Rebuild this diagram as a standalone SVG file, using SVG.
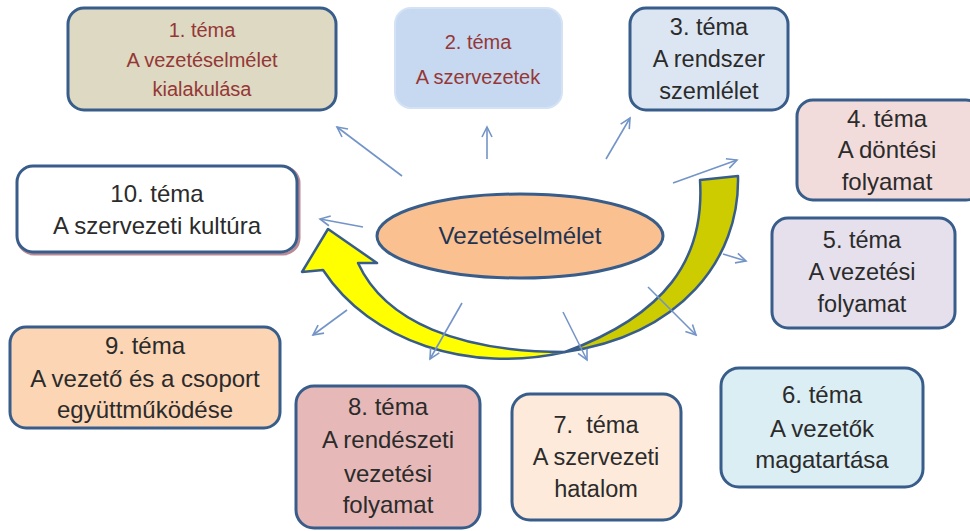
<svg xmlns="http://www.w3.org/2000/svg" width="970" height="531" viewBox="0 0 970 531">
<defs>
<style>
.box{stroke:#385d8a;stroke-width:3}
.t{font-family:"Liberation Sans",Arial,sans-serif;text-anchor:middle;fill:#2b2b2b}
.r{fill:#953735}
.c{stroke:#7394c8;stroke-width:1.6;fill:none;marker-end:url(#ah)}
.rib{stroke:#385d8a;stroke-width:2.5;stroke-linejoin:round}
</style>
<marker id="ah" markerUnits="userSpaceOnUse" markerWidth="14" markerHeight="14" refX="11" refY="6" orient="auto">
<path d="M1,1 L11,6 L1,11" fill="none" stroke="#7394c8" stroke-width="1.6"/>
</marker>
</defs>
<rect width="970" height="531" fill="#ffffff"/>

<g id="ribbon">
<path class="rib" fill="#cccc00" d="M700,180 L738,176 C740,260 680,335 565,352 C665,315 705,260 700,180 Z"/>
<path class="rib" fill="#ffff00" d="M565,352 C470,374 370,342 323,270 L302,272 L328,229 L377,263 L358,263 C385,322 460,352 565,352 Z"/>
</g>

<g id="connectors">
<line class="c" x1="402" y1="176" x2="337" y2="127"/>
<line class="c" x1="487" y1="159" x2="487" y2="127"/>
<line class="c" x1="606" y1="159" x2="630" y2="118"/>
<line class="c" x1="673" y1="183" x2="737" y2="160"/>
<line class="c" x1="723" y1="254" x2="746" y2="261"/>
<line class="c" x1="648" y1="287" x2="696" y2="335"/>
<line class="c" x1="563" y1="312" x2="587" y2="360"/>
<line class="c" x1="462" y1="303" x2="430" y2="359"/>
<line class="c" x1="347" y1="310" x2="313" y2="335"/>
<line class="c" x1="363" y1="227" x2="320" y2="219"/>
</g>

<g id="center">
<ellipse cx="520" cy="236" rx="143" ry="42" fill="#fac090" stroke="#385d8a" stroke-width="3"/>
<text class="t" x="520" y="244" font-size="24" style="fill:#1f3352">Vezetéselmélet</text>
</g>

<g id="node1">
<rect class="box" x="68" y="8" width="268" height="102" rx="16" fill="#ddd9c3"/>
<text class="t r" font-size="20" x="202"><tspan x="202" y="37">1. téma</tspan><tspan x="202" y="67">A vezetéselmélet</tspan><tspan x="202" y="96">kialakulása</tspan></text>
</g>

<g id="node2">
<rect x="395" y="8" width="167" height="100" rx="16" fill="#c6d9f1" stroke="#d4e2f5" stroke-width="2"/>
<text class="t r" font-size="20" x="478"><tspan x="478" y="49">2. téma</tspan><tspan x="478" y="84">A szervezetek</tspan></text>
</g>

<g id="node3">
<rect class="box" x="630" y="8" width="158" height="102" rx="16" fill="#dce6f2"/>
<text class="t" font-size="23.5" x="709"><tspan x="709" y="35">3. téma</tspan><tspan x="709" y="67">A rendszer</tspan><tspan x="709" y="99">szemlélet</tspan></text>
</g>

<g id="node4">
<rect class="box" x="797" y="100" width="185" height="100" rx="16" fill="#f2dcdb"/>
<text class="t" font-size="24" x="887"><tspan x="887" y="127">4. téma</tspan><tspan x="887" y="158">A döntési</tspan><tspan x="887" y="190">folyamat</tspan></text>
</g>

<g id="node5">
<rect class="box" x="772" y="218" width="183" height="110" rx="16" fill="#e5e0ec"/>
<text class="t" font-size="23.5" x="862"><tspan x="862" y="248">5. téma</tspan><tspan x="862" y="280">A vezetési</tspan><tspan x="862" y="312">folyamat</tspan></text>
</g>

<g id="node6">
<rect class="box" x="721" y="368" width="202" height="119" rx="18" fill="#dbeef4"/>
<text class="t" font-size="24" x="822"><tspan x="822" y="403">6. téma</tspan><tspan x="822" y="437">A vezetők</tspan><tspan x="822" y="468">magatartása</tspan></text>
</g>

<g id="node7">
<rect class="box" x="512" y="394" width="169" height="126" rx="18" fill="#fdeada"/>
<text class="t" font-size="23.5" x="596" xml:space="preserve"><tspan x="596" y="433">7.  téma</tspan><tspan x="596" y="465">A szervezeti</tspan><tspan x="596" y="497">hatalom</tspan></text>
</g>

<g id="node8">
<rect class="box" x="296" y="386" width="184" height="142" rx="18" fill="#e6b9b8"/>
<text class="t" font-size="24" x="388"><tspan x="388" y="415">8. téma</tspan><tspan x="388" y="448">A rendészeti</tspan><tspan x="388" y="482">vezetési</tspan><tspan x="388" y="513">folyamat</tspan></text>
</g>

<g id="node9">
<rect class="box" x="10" y="327" width="270" height="101" rx="16" fill="#fcd5b5"/>
<text class="t" font-size="24" x="145"><tspan x="145" y="354">9. téma</tspan><tspan x="145" y="387">A vezető és a csoport</tspan><tspan x="145" y="418">együttműködése</tspan></text>
</g>

<g id="node10">
<rect x="18" y="167" width="281" height="87" rx="16" fill="none" stroke="#b98a96" stroke-width="3"/>
<rect class="box" x="17" y="166" width="280" height="86" rx="16" fill="#ffffff"/>
<text class="t" font-size="24" x="157"><tspan x="157" y="202">10. téma</tspan><tspan x="157" y="234">A szervezeti kultúra</tspan></text>
</g>
</svg>
